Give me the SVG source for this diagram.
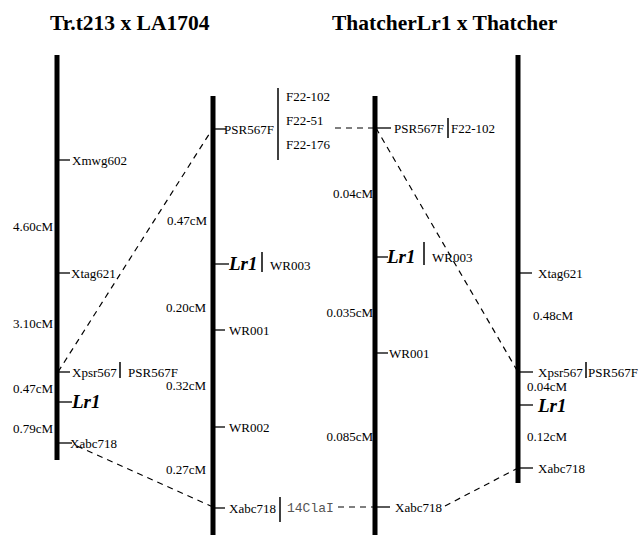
<svg xmlns="http://www.w3.org/2000/svg" width="640" height="535" viewBox="0 0 640 535">
  <style>
    .title { font-family: "Liberation Serif", "Times New Roman", serif; font-size: 21.5px; font-weight: bold; fill: #000; }
    .lbl { font-family: "Liberation Serif", "Times New Roman", serif; font-size: 13px; fill: #000; }
    .dist { font-family: "Liberation Serif", "Times New Roman", serif; font-size: 13px; fill: #000; text-anchor: end; }
    .gene { font-family: "Liberation Serif", "Times New Roman", serif; font-size: 19px; font-weight: bold; font-style: italic; fill: #000; }
    .mono { font-family: "Liberation Mono", "Courier New", monospace; font-size: 13px; fill: #555; }
    .chrom { stroke: #000; stroke-width: 5; fill: none; }
    .tick { stroke: #000; stroke-width: 1.3; fill: none; }
    .bar { stroke: #000; stroke-width: 1.5; fill: none; }
    .dash { stroke: #000; stroke-width: 1.2; fill: none; stroke-dasharray: 6 5; }
  </style>

  <!-- titles -->
  <text class="title" x="50" y="30">Tr.t213 x LA1704</text>
  <text class="title" x="332" y="30">ThatcherLr1 x Thatcher</text>

  <!-- map 1: Tr.t213 x LA1704 -->
  <g id="map1">
    <line class="chrom" x1="57" y1="55" x2="57" y2="460"/>
    <line class="tick" x1="59" y1="160" x2="70" y2="160"/>
    <text class="lbl" x="72" y="164.5">Xmwg602</text>
    <text class="dist" x="53" y="230.5">4.60cM</text>
    <line class="tick" x1="59" y1="273" x2="70" y2="273"/>
    <text class="lbl" x="71" y="277.5">Xtag621</text>
    <text class="dist" x="53" y="327.5">3.10cM</text>
    <line class="tick" x1="59" y1="372" x2="70" y2="372"/>
    <text class="lbl" x="72" y="376.5">Xpsr567</text>
    <line class="bar" x1="120" y1="362" x2="120" y2="378"/>
    <text class="lbl" x="128" y="376.5">PSR567F</text>
    <text class="dist" x="53" y="392.5">0.47cM</text>
    <line class="tick" x1="59" y1="402" x2="72" y2="402"/>
    <text class="gene" x="72" y="408">Lr1</text>
    <text class="dist" x="53" y="432.5">0.79cM</text>
    <line class="tick" x1="59" y1="443" x2="72" y2="443"/>
    <text class="lbl" x="70" y="447.5">Xabc718</text>
  </g>

  <!-- map 2: fine map, Tr.t213 x LA1704 -->
  <g id="map2">
    <line class="chrom" x1="213" y1="96" x2="213" y2="535"/>
    <line class="tick" x1="215" y1="129" x2="226" y2="129"/>
    <text class="lbl" x="224" y="133.5">PSR567F</text>
    <line class="bar" x1="278" y1="88" x2="278" y2="160"/>
    <text class="lbl" x="286" y="101">F22-102</text>
    <text class="lbl" x="286" y="125">F22-51</text>
    <text class="lbl" x="286" y="149">F22-176</text>
    <text class="dist" x="207" y="224.5">0.47cM</text>
    <line class="tick" x1="215" y1="264" x2="229" y2="264"/>
    <text class="gene" x="229" y="270">Lr1</text>
    <line class="bar" x1="262" y1="252" x2="262" y2="272"/>
    <text class="lbl" x="270" y="270">WR003</text>
    <text class="dist" x="206" y="311.5">0.20cM</text>
    <line class="tick" x1="215" y1="330" x2="225" y2="330"/>
    <text class="lbl" x="229" y="334.5">WR001</text>
    <text class="dist" x="206" y="389.5">0.32cM</text>
    <line class="tick" x1="215" y1="427" x2="225" y2="427"/>
    <text class="lbl" x="229" y="431.5">WR002</text>
    <text class="dist" x="206" y="473.5">0.27cM</text>
    <line class="tick" x1="215" y1="508" x2="225" y2="508"/>
    <text class="lbl" x="229" y="512.5">Xabc718</text>
    <line class="bar" x1="280" y1="497" x2="280" y2="522"/>
    <text class="mono" x="287" y="512">14ClaI</text>
  </g>

  <!-- map 3: fine map, ThatcherLr1 x Thatcher -->
  <g id="map3">
    <line class="chrom" x1="375" y1="96" x2="375" y2="535"/>
    <line class="tick" x1="377" y1="128" x2="391" y2="128"/>
    <text class="lbl" x="394" y="132.5">PSR567F</text>
    <line class="bar" x1="448" y1="118" x2="448" y2="138"/>
    <text class="lbl" x="451" y="132.5">F22-102</text>
    <text class="dist" x="373" y="197.5">0.04cM</text>
    <line class="tick" x1="377" y1="257" x2="388" y2="257"/>
    <text class="gene" x="387" y="263">Lr1</text>
    <line class="bar" x1="424" y1="242" x2="424" y2="265"/>
    <text class="lbl" x="432" y="262">WR003</text>
    <text class="dist" x="373" y="316.5">0.035cM</text>
    <line class="tick" x1="377" y1="353" x2="388" y2="353"/>
    <text class="lbl" x="389" y="357.5">WR001</text>
    <text class="dist" x="373" y="440.5">0.085cM</text>
    <line class="tick" x1="377" y1="507" x2="390" y2="507"/>
    <text class="lbl" x="395" y="511.5">Xabc718</text>
  </g>

  <!-- map 4: ThatcherLr1 x Thatcher -->
  <g id="map4">
    <line class="chrom" x1="518" y1="55" x2="518" y2="483"/>
    <line class="tick" x1="520" y1="273" x2="532" y2="273"/>
    <text class="lbl" x="538" y="277.5">Xtag621</text>
    <text class="lbl" x="533" y="319.5">0.48cM</text>
    <line class="tick" x1="520" y1="372" x2="533" y2="372"/>
    <text class="lbl" x="538" y="376.5">Xpsr567</text>
    <line class="bar" x1="586" y1="362" x2="586" y2="378"/>
    <text class="lbl" x="588" y="376.5">PSR567F</text>
    <text class="lbl" x="527" y="391">0.04cM</text>
    <line class="tick" x1="520" y1="405" x2="533" y2="405"/>
    <text class="gene" x="538" y="411.5">Lr1</text>
    <text class="lbl" x="527" y="440.5">0.12cM</text>
    <line class="tick" x1="520" y1="468" x2="533" y2="468"/>
    <text class="lbl" x="538" y="472.5">Xabc718</text>
  </g>

  <!-- connectors between shared markers -->
  <g id="connectors">
    <line class="dash" x1="58" y1="372" x2="213" y2="128"/>
    <line class="dash" x1="77" y1="446" x2="213" y2="507"/>
    <line class="dash" x1="335" y1="128" x2="375" y2="128"/>
    <line class="dash" x1="338" y1="507" x2="375" y2="507"/>
    <line class="dash" x1="376" y1="128" x2="518" y2="372"/>
    <line class="dash" x1="445" y1="506" x2="518" y2="468"/>
  </g>
</svg>
